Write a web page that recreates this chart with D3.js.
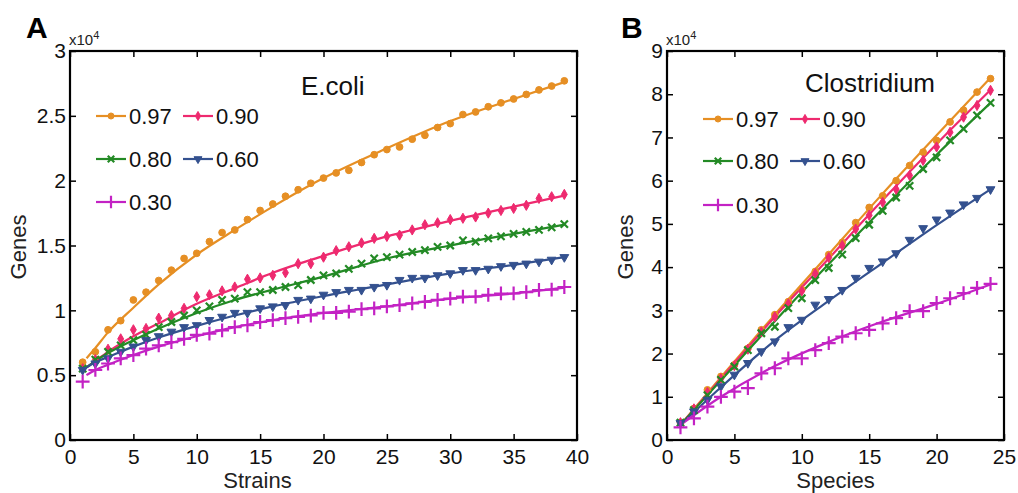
<!DOCTYPE html>
<html>
<head>
<meta charset="utf-8">
<script src="https://cdn.jsdelivr.net/npm/d3@7"></script>
<style>
  body { margin: 0; background: #fff; }
  svg { font-family: "Liberation Sans", Arial, sans-serif; }
</style>
</head>
<body>
<div id="chart"></div>
<script>
// series names (identity thresholds) and colours
var seriesNames = ["0.97", "0.90", "0.80", "0.60", "0.30"];
var seriesColors = ["#e68f24", "#ee2a6f", "#238a25", "#34518f", "#c322c4"];

// panel A : E.coli, genes (x10^4) vs number of strains
var strainsA = d3.range(1, 40);
var ecoli097 = [0.60,0.68,0.85,0.92,1.08,1.14,1.23,1.31,1.40,1.44,1.53,1.60,1.62,1.70,1.77,1.82,1.88,1.93,1.98,2.02,
                2.06,2.08,2.14,2.20,2.24,2.26,2.32,2.35,2.41,2.44,2.51,2.53,2.57,2.60,2.63,2.665,2.70,2.73,2.77];
var ecoli090 = [0.55,0.62,0.70,0.78,0.85,0.86,0.94,0.96,1.015,1.105,1.12,1.15,1.18,1.24,1.25,1.27,1.29,1.36,1.36,1.41,
                1.46,1.49,1.52,1.555,1.57,1.58,1.62,1.66,1.675,1.70,1.71,1.72,1.75,1.77,1.786,1.81,1.863,1.876,1.894];
var ecoli080 = [0.55,0.62,0.68,0.73,0.77,0.81,0.87,0.91,0.96,1.00,1.03,1.08,1.09,1.14,1.14,1.157,1.18,1.195,1.234,1.27,
                1.285,1.32,1.36,1.40,1.41,1.43,1.45,1.465,1.49,1.50,1.54,1.53,1.555,1.57,1.59,1.605,1.62,1.64,1.665];
var ecoli060 = [0.54,0.59,0.63,0.68,0.72,0.77,0.80,0.835,0.87,0.885,0.925,0.95,0.98,0.98,1.015,1.03,1.04,1.08,1.09,1.12,
                1.14,1.157,1.157,1.18,1.195,1.234,1.25,1.25,1.27,1.285,1.31,1.31,1.32,1.34,1.35,1.36,1.375,1.39,1.41];
var ecoli030 = [0.45,0.54,0.59,0.63,0.655,0.705,0.73,0.755,0.78,0.81,0.82,0.845,0.87,0.885,0.91,0.925,0.94,0.95,0.96,0.98,
                0.98,0.99,1.01,1.015,1.03,1.04,1.054,1.066,1.08,1.09,1.105,1.105,1.12,1.13,1.13,1.14,1.157,1.16,1.18];

// fitted curves of panel A
var fitXA = [1.3, 2, 3, 5, 7, 10, 13, 16, 20, 25, 30, 35, 39];
var ecoliFit097 = [0.63,0.71,0.83,1.02,1.20,1.43,1.62,1.80,2.02,2.25,2.46,2.63,2.76];
var ecoliFit090 = [0.56,0.61,0.68,0.80,0.90,1.05,1.17,1.29,1.42,1.57,1.69,1.80,1.885];
var ecoliFit080 = [0.56,0.61,0.67,0.77,0.86,0.98,1.08,1.16,1.26,1.40,1.50,1.59,1.66];
var ecoliFit060 = [0.56,0.60,0.64,0.72,0.79,0.88,0.96,1.03,1.11,1.20,1.285,1.35,1.41];
var ecoliFit030 = [0.50,0.54,0.58,0.655,0.72,0.80,0.87,0.925,0.98,1.03,1.09,1.13,1.175];

// panel B : Clostridium, genes (x10^4) vs number of species
var speciesB = d3.range(1, 25);
var clos097 = [0.40,0.73,1.16,1.47,1.74,2.12,2.55,2.90,3.20,3.48,3.90,4.29,4.57,5.03,5.38,5.65,6.00,6.35,6.66,6.93,7.36,7.63,8.05,8.36];
var clos090 = [0.40,0.72,1.10,1.42,1.72,2.10,2.50,2.85,3.15,3.45,3.85,4.22,4.50,4.88,5.20,5.50,5.80,6.12,6.47,6.78,7.12,7.47,7.74,8.09];
var clos080 = [0.40,0.69,1.04,1.39,1.70,2.08,2.47,2.62,3.05,3.28,3.70,3.98,4.29,4.67,4.98,5.30,5.61,5.88,6.27,6.54,6.93,7.20,7.51,7.80];
var clos060 = [0.39,0.66,0.93,1.24,1.51,1.78,2.05,2.28,2.61,2.78,3.13,3.26,3.47,3.75,3.98,4.13,4.32,4.63,4.90,5.10,5.26,5.45,5.60,5.80];
var clos030 = [0.29,0.50,0.77,1.00,1.12,1.20,1.54,1.66,1.89,1.89,2.08,2.24,2.39,2.47,2.55,2.70,2.82,2.98,2.98,3.17,3.28,3.40,3.52,3.61];

var fitXB = [1, 4, 8, 12, 16, 20, 24];
var closFit097 = [0.35,1.45,2.90,4.30,5.70,7.05,8.38];
var closFit090 = [0.35,1.42,2.85,4.20,5.55,6.85,8.10];
var closFit080 = [0.35,1.38,2.75,4.07,5.35,6.60,7.80];
var closFit060 = [0.35,1.22,2.30,3.22,4.10,4.97,5.80];
var closFit030 = [0.35,1.00,1.71,2.27,2.74,3.15,3.60];

var ticksXA = [0, 5, 10, 15, 20, 25, 30, 35, 40];
var ticksYA = [0, 0.5, 1, 1.5, 2, 2.5, 3];
var ticksXB = [0, 5, 10, 15, 20, 25];
var ticksYB = [0, 1, 2, 3, 4, 5, 6, 7, 8, 9];

var width = 1018, height = 493;

var svg = d3.select("#chart")
  .append("svg")
    .attr("width", width)
    .attr("height", height);

// marker shapes, one per series
var markerTypes = [
  {type: d3.symbolCircle, size: 36, fill: true},
  {type: d3.symbolDiamond, size: 30, fill: true},
  {type: d3.symbolTimes, size: 36, fill: false},
  {type: d3.symbolTriangle, size: 34, fill: true, rotate: 180},
  {type: d3.symbolPlus, size: 64, fill: false}
];

function drawMarker(g, i, x, y, scale) {
  var m = markerTypes[i];
  var sc = scale || 1;
  g.append("path")
    .attr("d", d3.symbol().type(m.type).size(m.size * sc)())
    .attr("transform", "translate(" + x + "," + y + ")" + (m.rotate ? " rotate(" + m.rotate + ")" : ""))
    .attr("fill", m.fill ? seriesColors[i] : "none")
    .attr("stroke", seriesColors[i])
    .attr("stroke-width", m.fill ? 1 : 2.2);
}

function drawPanel(cfg) {
  var g = svg.append("g");
  var x = d3.scaleLinear().domain(cfg.xDomain).range([cfg.left, cfg.right]);
  var y = d3.scaleLinear().domain(cfg.yDomain).range([cfg.bottom, cfg.top]);

  // fitted lines
  var line = d3.line()
    .x(function(d) { return x(d[0]); })
    .y(function(d) { return y(d[1]); })
    .curve(d3.curveMonotoneX);
  cfg.fits.forEach(function(f, i) {
    g.append("path")
      .datum(cfg.fitX.map(function(v, j) { return [v, f[j]]; }))
      .attr("d", line)
      .attr("fill", "none")
      .attr("stroke", seriesColors[i])
      .attr("stroke-width", 2.2);
  });

  // data points
  cfg.points.forEach(function(p, i) {
    p.forEach(function(v, j) {
      drawMarker(g, i, x(cfg.xs[j]), y(v));
    });
  });

  // axes with inward ticks on all four sides
  var fsz = "21px";
  g.append("g")
    .attr("transform", "translate(0," + cfg.bottom + ")")
    .call(d3.axisBottom(x).tickValues(cfg.ticksX).tickSize(-6).tickPadding(9).tickFormat(d3.format("~g")));
  g.append("g")
    .attr("transform", "translate(" + cfg.left + ",0)")
    .call(d3.axisLeft(y).tickValues(cfg.ticksY).tickSize(-6).tickPadding(4).tickFormat(d3.format("~g")));
  g.append("g")
    .attr("transform", "translate(0," + cfg.top + ")")
    .call(d3.axisTop(x).tickValues(cfg.ticksX).tickSize(-6).tickFormat(""));
  g.append("g")
    .attr("transform", "translate(" + cfg.right + ",0)")
    .call(d3.axisRight(y).tickValues(cfg.ticksY).tickSize(-6).tickFormat(""));
  g.selectAll(".domain").remove();
  g.selectAll(".tick line").attr("stroke", "#000").attr("stroke-width", 1.5);
  g.selectAll(".tick text").attr("font-size", fsz).attr("fill", "#111")
    .attr("font-family", "Liberation Sans, Arial, sans-serif");

  g.append("rect")
    .attr("x", cfg.left).attr("y", cfg.top)
    .attr("width", cfg.right - cfg.left).attr("height", cfg.bottom - cfg.top)
    .attr("fill", "none").attr("stroke", "#000").attr("stroke-width", 2.2);

  // exponent note
  var ex = g.append("text")
    .attr("x", cfg.left - 1).attr("y", 45)
    .attr("font-size", "15px").attr("fill", "#222")
    .text("x10");
  ex.append("tspan").attr("dy", -6).attr("font-size", "11px").text("4");

  // panel letter
  g.append("text")
    .attr("x", cfg.letterX).attr("y", 38)
    .attr("font-size", "30px").attr("font-weight", "bold")
    .text(cfg.letter);

  // axis titles
  g.append("text")
    .attr("x", (cfg.left + cfg.right) / 2 + cfg.xTitleShift).attr("y", 488)
    .attr("text-anchor", "middle").attr("font-size", "22px").attr("fill", "#222")
    .text(cfg.xTitle);
  g.append("text")
    .attr("transform", "translate(" + cfg.yTitleX + "," + 247 + ") rotate(-90)")
    .attr("text-anchor", "middle").attr("font-size", "22px").attr("fill", "#222")
    .text("Genes");

  // organism name
  g.append("text")
    .attr("x", cfg.nameX).attr("y", cfg.nameY)
    .attr("font-size", "26px").attr("fill", "#111")
    .text(cfg.name);

  // legend: two columns, three rows
  cfg.legendRows.forEach(function(ry, r) {
    [0, 1].forEach(function(c) {
      var i = r * 2 + c;
      if (i >= seriesNames.length) return;
      var lx = cfg.legendX[c];
      g.append("line")
        .attr("x1", lx).attr("x2", lx + 30)
        .attr("y1", ry).attr("y2", ry)
        .attr("stroke", seriesColors[i]).attr("stroke-width", 2.2);
      drawMarker(g, i, lx + 15, ry, 0.8);
      g.append("text")
        .attr("x", lx + 33).attr("y", ry).attr("dy", "0.36em")
        .attr("font-size", "22px").attr("fill", "#111")
        .text(seriesNames[i]);
    });
  });
}

drawPanel({
  letter: "A", letterX: 26,
  left: 70, right: 577, top: 51, bottom: 440,
  xDomain: [0, 40], yDomain: [0, 3],
  ticksX: ticksXA, ticksY: ticksYA,
  xs: strainsA,
  points: [ecoli097, ecoli090, ecoli080, ecoli060, ecoli030],
  fitX: fitXA,
  fits: [ecoliFit097, ecoliFit090, ecoliFit080, ecoliFit060, ecoliFit030],
  xTitle: "Strains", xTitleShift: -66, yTitleX: 26,
  name: "E.coli", nameX: 301, nameY: 95,
  legendX: [96, 183], legendRows: [116, 159, 202]
});

drawPanel({
  letter: "B", letterX: 621,
  left: 667, right: 1004, top: 51, bottom: 440,
  xDomain: [0, 25], yDomain: [0, 9],
  ticksX: ticksXB, ticksY: ticksYB,
  xs: speciesB,
  points: [clos097, clos090, clos080, clos060, clos030],
  fitX: fitXB,
  fits: [closFit097, closFit090, closFit080, closFit060, closFit030],
  xTitle: "Species", xTitleShift: 0, yTitleX: 633,
  name: "Clostridium", nameX: 805, nameY: 92,
  legendX: [703, 790], legendRows: [119, 161, 205]
});
</script>
</body>
</html>
